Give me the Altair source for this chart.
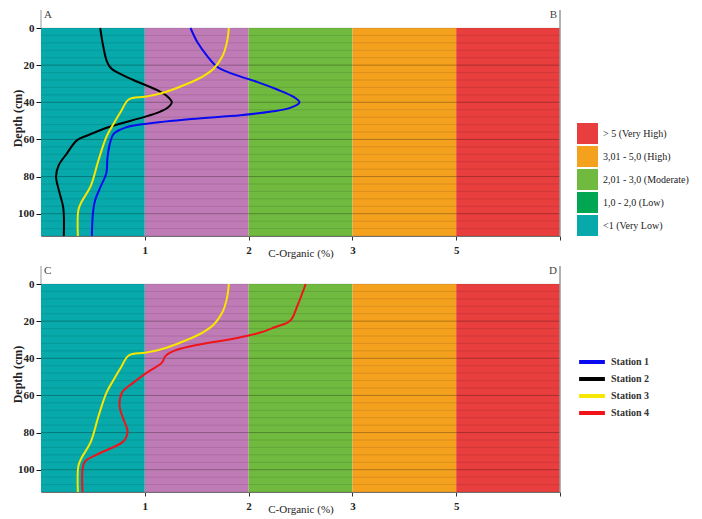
import altair as alt
import pandas as pd

# ---------------- data ----------------
band_labels = ["<1 (Very Low)", "1,0 - 2,0 (Low)", "2,01 - 3,0 (Moderate)",
               "3,01 - 5,0 (High)", "> 5 (Very High)"]
band_lo = [0, 1, 2, 3, 4]
band_hi = [1, 2, 3, 4, 5]
band_colors = ["#07a9aa", "#bf7bb6", "#6fba3f", "#f4a11e", "#e93e3e"]
legend_colors = ["#07a9aa", "#00a651", "#6fba3f", "#f4a11e", "#e93e3e"]

x_tick_values = [1, 2, 3, 4, 5]
y_tick_values = [0, 20, 40, 60, 80, 100]
minor_depths = [0, 4, 8, 12, 16, 24, 28, 32, 36, 44, 48, 52, 56, 64, 68, 72, 76,
                84, 88, 92, 96, 104, 108, 112]
major_depths = [20, 40, 60, 80, 100]

stations = ["Station 1", "Station 2", "Station 3", "Station 4"]
station_colors = ["#0a0af0", "#000000", "#f7e600", "#f0141a"]

s1_depth = [0, 8, 15, 21, 25, 29, 33, 37, 40, 43, 45, 47, 49, 51.5, 53.5, 57, 62,
            70, 78, 86, 93, 100, 112]
s1_val = [1.44, 1.51, 1.60, 1.70, 1.86, 2.08, 2.27, 2.43, 2.49, 2.40, 2.22, 1.92,
          1.45, 1.02, 0.82, 0.70, 0.665, 0.64, 0.63, 0.57, 0.52, 0.50, 0.49]

s2_depth = [0, 10, 18, 22, 28, 33.5, 37, 40, 43, 45, 48, 53, 58, 60.5, 67.5, 74,
            80, 89, 97, 112]
s2_val = [0.57, 0.60, 0.635, 0.68, 0.89, 1.12, 1.22, 1.26, 1.22, 1.15, 0.99, 0.67,
          0.44, 0.345, 0.25, 0.17, 0.145, 0.18, 0.215, 0.22]

s3_depth = [0, 8, 15.5, 21.8, 26, 30, 35.3, 37, 38.5, 45, 51.5, 58.6, 71, 85.6,
            93.7, 98, 112]
s3_val = [1.81, 1.79, 1.745, 1.665, 1.56, 1.41, 1.15, 1.0, 0.845, 0.77, 0.70, 0.63,
          0.555, 0.475, 0.39, 0.36, 0.355]

s4_depth = [0, 11.7, 19.8, 23.4, 26, 28, 30, 32.4, 36, 38.7, 42.3, 47.7, 53.1, 58.5,
            65.8, 73, 79.3, 84.7, 91, 95.5, 100, 112]
s4_val = [2.55, 2.47, 2.40, 2.245, 2.12, 1.98, 1.80, 1.54, 1.28, 1.20, 1.165, 1.02,
          0.89, 0.78, 0.757, 0.795, 0.834, 0.795, 0.57, 0.425, 0.40, 0.40]

# ---------------- tables ----------------
band_df = pd.DataFrame({"label": band_labels, "lo": band_lo, "hi": band_hi})
minor_df = pd.DataFrame({"d": minor_depths})
major_df = pd.DataFrame({"d": major_depths})


def station_df(names, depths, vals):
    rows = []
    for n, ds, vs in zip(names, depths, vals):
        for d, v in zip(ds, vs):
            rows.append({"station": n, "d": d, "v": v})
    return pd.DataFrame(rows)


top_df = station_df(["Station 1", "Station 2", "Station 3"],
                    [s1_depth, s2_depth, s3_depth], [s1_val, s2_val, s3_val])
bot_df = station_df(["Station 3", "Station 4"],
                    [s3_depth, s4_depth], [s3_val, s4_val])

# ---------------- style ----------------
W, H = 519, 208
FONT = "Liberation Serif"

xscale = alt.Scale(domain=[0, 5], nice=False, zero=False)
yscale = alt.Scale(domain=[0, 112], reverse=True, nice=False, zero=False)

xaxis = alt.Axis(values=x_tick_values, title="C-Organic (%)",
                 labelExpr="datum.value == 4 ? '5' : (datum.value == 5 ? '' : datum.label)",
                 labelFont=FONT, labelFontSize=11, labelFontWeight="bold", labelColor="#222",
                 titleFont=FONT, titleFontSize=11, titleFontWeight="normal", titleColor="#222",
                 titleBaseline="alphabetic", titleY=20,
                 domainColor="#777", tickColor="#333", tickSize=4, labelPadding=4,
                 grid=False)
yaxis = alt.Axis(values=y_tick_values, title="Depth (cm)",
                 labelFont=FONT, labelFontSize=11, labelFontWeight="bold", labelColor="#222",
                 titleFont=FONT, titleFontSize=12, titleFontWeight="bold", titleColor="#222",
                 titleAngle=-90, titleBaseline="bottom", titleAlign="center",
                 titleX=-17, titleY=90,
                 domainColor="#999", tickColor="#111", tickSize=5, labelPadding=2,
                 grid=False)


def panel(df, letter_l, letter_r, band_legend):
    bands = alt.Chart(band_df).mark_rect().encode(
        x=alt.X("lo:Q", scale=xscale, axis=xaxis),
        x2="hi:Q",
        fill=alt.Fill("label:N", scale=alt.Scale(domain=band_labels, range=band_colors),
                      legend=None),
    )
    minor = alt.Chart(minor_df).mark_rule(color="#000", opacity=0.1, strokeWidth=1).encode(
        y=alt.Y("d:Q", scale=yscale, axis=yaxis)
    )
    major = alt.Chart(major_df).mark_rule(color="#000", opacity=0.28, strokeWidth=1).encode(
        y=alt.Y("d:Q", scale=yscale, axis=yaxis)
    )
    if band_legend:
        line_legend = None
    else:
        line_legend = alt.Legend(
            orient="none", legendX=543, legendY=70, title=None, padding=0,
            symbolType="M-2.15,0H2.15", symbolSize=144, symbolStrokeWidth=4,
            rowPadding=1, labelOffset=11, labelFont=FONT, labelFontSize=10,
            labelFontWeight="bold", labelColor="#333")
    lines = alt.Chart(df).mark_line(strokeWidth=2, interpolate="catmull-rom").encode(
        x=alt.X("v:Q", scale=xscale, axis=xaxis),
        y=alt.Y("d:Q", scale=yscale, axis=yaxis),
        stroke=alt.Stroke("station:N",
                          scale=alt.Scale(domain=stations, range=station_colors),
                          legend=line_legend),
        order="d:Q",
    )
    edge_l = alt.Chart(band_df.head(1)).mark_rule(color="#999", strokeWidth=1).encode(
        x=alt.value(0), y=alt.value(-18), y2=alt.value(0))
    edge_r = alt.Chart(band_df.head(1)).mark_rule(color="#999", strokeWidth=1.5).encode(
        x=alt.value(W), y=alt.value(-18), y2=alt.value(H))
    lab_l = alt.Chart(pd.DataFrame({"t": [letter_l]})).mark_text(
        font=FONT, fontSize=11, color="#444", align="left", baseline="middle").encode(
        x=alt.value(3), y=alt.value(-13), text="t:N")
    lab_r = alt.Chart(pd.DataFrame({"t": [letter_r]})).mark_text(
        font=FONT, fontSize=11, color="#444", align="right", baseline="middle").encode(
        x=alt.value(W - 3), y=alt.value(-13), text="t:N")
    layers = [bands, minor, major, lines, edge_l, edge_r, lab_l, lab_r]
    if band_legend:
        dummy = alt.Chart(band_df).mark_square(opacity=0).encode(
            x=alt.value(0), y=alt.value(0),
            color=alt.Color("label:N",
                            scale=alt.Scale(domain=band_labels[::-1], range=legend_colors[::-1]),
                            legend=alt.Legend(
                                orient="none", legendX=536, legendY=95, title=None,
                                padding=0, symbolType="square", symbolSize=441,
                                symbolOpacity=1, symbolStrokeWidth=0, rowPadding=2,
                                labelOffset=5, labelFont=FONT, labelFontSize=10,
                                labelColor="#222")))
        layers.append(dummy)
    return alt.layer(*layers).properties(width=W, height=H).resolve_scale(
        fill="independent", stroke="independent", color="independent")


top = panel(top_df, "A", "B", True)
bottom = panel(bot_df, "C", "D", False)

chart = alt.vconcat(top, bottom, spacing=7).resolve_scale(
    fill="independent", stroke="independent", color="independent"
).properties(padding={"left": 3, "top": 1, "right": 5, "bottom": 5}
).configure_view(stroke=None)

chart.save("out.html", embed_options={"renderer": "svg", "actions": False})
